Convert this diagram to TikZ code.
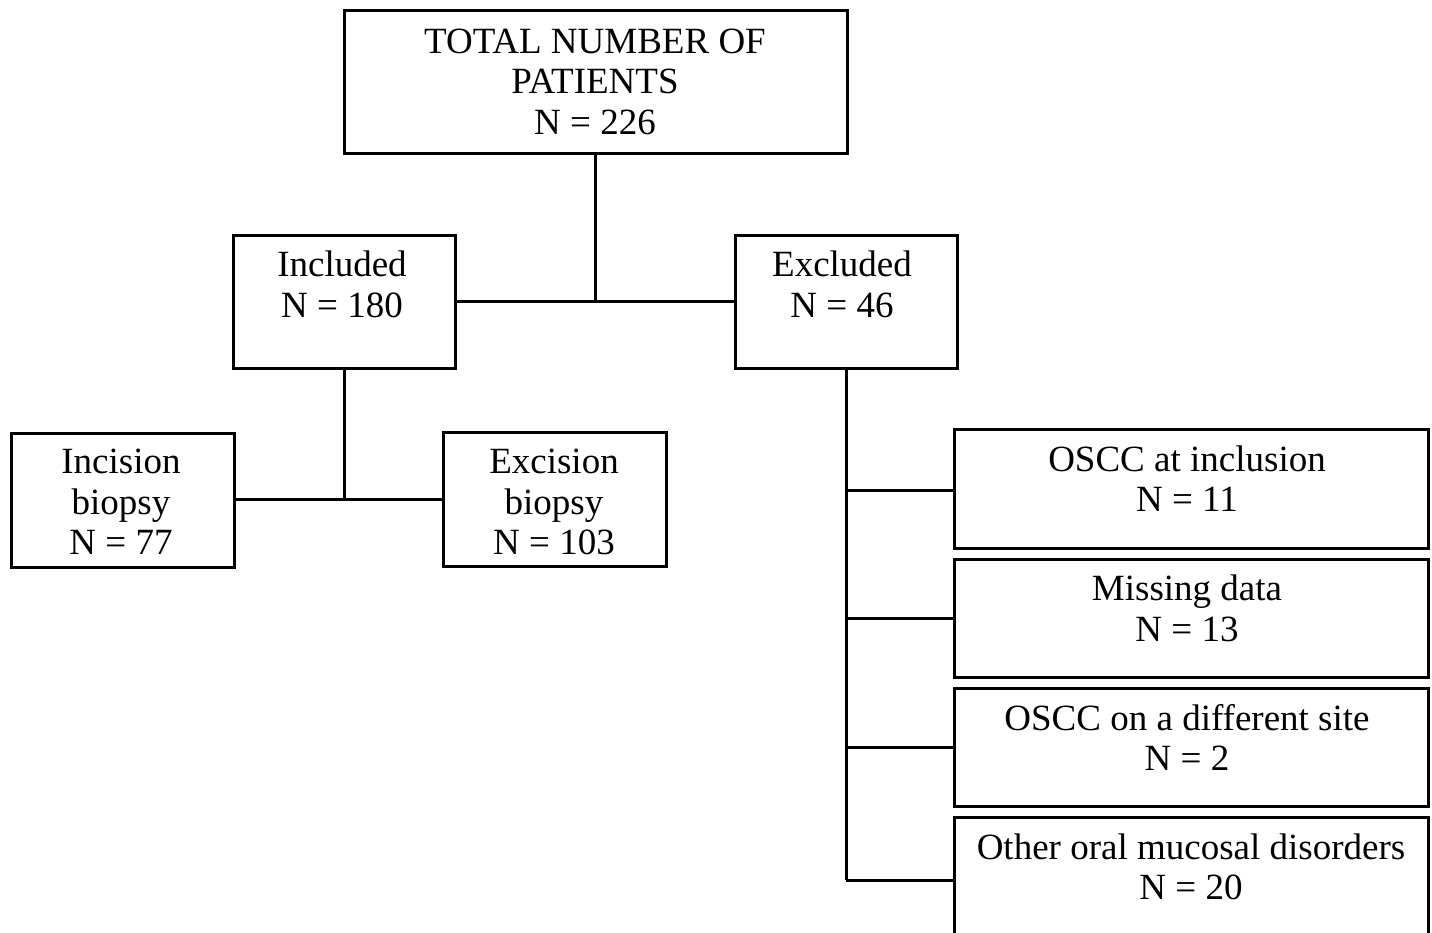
\documentclass[tikz,border=0pt]{standalone}
\usepackage{fontspec}
\setmainfont{Liberation Serif}
\begin{document}
\begin{tikzpicture}[x=1pt,y=-1pt,
  box/.style={draw=black,line width=3pt,rectangle,inner sep=0pt},
  txt/.style={align=center,inner sep=0pt,font=\fontsize{37}{40.5}\selectfont},
  conn/.style={line width=3pt,draw=black}]
\useasboundingbox[fill=white] (0,0) rectangle (1432,932);
% boxes
\draw[box] (344,10) rectangle (847,153);
\draw[box] (233,235) rectangle (455,368);
\draw[box] (735,235) rectangle (957,368);
\draw[box] (11,433) rectangle (234,567);
\draw[box] (443,432) rectangle (666,566);
\draw[box] (954,429) rectangle (1428,548);
\draw[box] (954,559) rectangle (1428,677);
\draw[box] (954,688) rectangle (1428,806);
\draw[box] (954,817) rectangle (1428,950);
% named anchors
\coordinate (totB) at (595,153);
\coordinate (incR) at (455,301);
\coordinate (excL) at (735,301);
\coordinate (tj) at (595,301);
\coordinate (incB) at (344,368);
\coordinate (ij) at (344,499);
\coordinate (icR) at (234,499);
\coordinate (ecL) at (443,499);
\coordinate (exB) at (846,368);
\coordinate (b1) at (846,490);
\coordinate (b2) at (846,618);
\coordinate (b3) at (846,747);
\coordinate (b4) at (846,880);
\coordinate (r1) at (954,490);
\coordinate (r2) at (954,618);
\coordinate (r3) at (954,747);
\coordinate (r4) at (954,880);
% connectors
\draw[conn] (totB) -- (tj);
\draw[conn] (incR) -- (excL);
\draw[conn] (incB) -- (ij);
\draw[conn] (icR) -- (ecL);
\draw[conn] (exB) -- (b4);
\draw[conn] (b1) -- (r1);
\draw[conn] (b2) -- (r2);
\draw[conn] (b3) -- (r3);
\draw[conn] (b4) -- (r4);
% texts
\node[txt] (t0) at (595,81.5) {TOTAL NUMBER OF\\PATIENTS\\N = 226};
\node[txt] (t1) at (342,284.5) {Included\\N = 180};
\node[txt] (t2) at (842,284.5) {Excluded\\N = 46};
\node[txt] (t3) at (121,502) {Incision\\biopsy\\N = 77};
\node[txt] (t4) at (554,502) {Excision\\biopsy\\N = 103};
\node[txt] (t5) at (1187,478.5) {OSCC at inclusion\\N = 11};
\node[txt] (t6) at (1187,608.5) {Missing data\\N = 13};
\node[txt] (t7) at (1187,737.5) {OSCC on a different site\\N = 2};
\node[txt] (t8) at (1191,867) {Other oral mucosal disorders\\N = 20};
\end{tikzpicture}
\end{document}
